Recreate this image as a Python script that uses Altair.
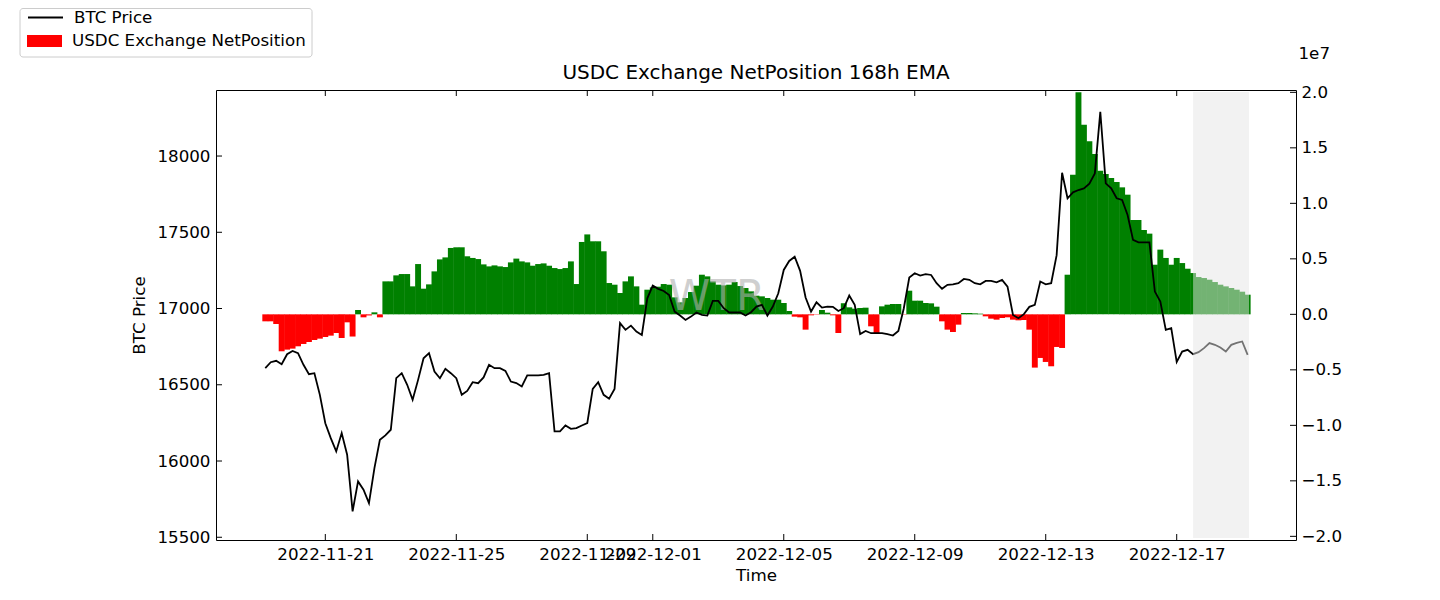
import altair as alt
import numpy as np
import pandas as pd

# ---------------- data (4-hour samples) ----------------
start_time = "2022-11-19 04:00"

btc_price = [
    16609, 16648, 16657, 16635, 16700, 16722, 16707, 16631, 16569, 16576, 16434, 16248,
    16150, 16063, 16183, 16041, 15670, 15866, 15812, 15724, 15953, 16139, 16168,
    16205, 16543, 16576, 16500, 16401, 16532, 16674, 16707, 16587, 16543, 16604, 16576,
    16543, 16434, 16460, 16517, 16510, 16548, 16631, 16609, 16609, 16591,
    16521, 16511, 16489, 16561, 16561, 16561, 16565, 16576, 16194, 16194, 16233, 16211,
    16216, 16233, 16248, 16473, 16517, 16434, 16408, 16473, 16904, 16860, 16888,
    16849, 16827, 17067, 17150, 17129, 17115, 17089, 16980, 16954, 16925, 16947, 16974,
    16958, 16954, 17050, 17050, 17002, 16974, 16974, 16974, 16954, 16976, 17013,
    17024, 16954, 17013, 17100, 17253, 17312, 17340, 17247, 17072, 16980, 17041, 17006,
    17013, 17011, 16984, 17002, 17085, 17024, 16832, 16853, 16838, 16838, 16838,
    16832, 16823, 16853, 17002, 17203, 17231, 17216, 17225, 17220, 17166, 17129, 17155,
    17159, 17166, 17194, 17188, 17166, 17159, 17181, 17181, 17172, 17188,
    17144, 16958, 16936, 16963, 17011, 17024, 17177, 17159, 17166, 17350, 17890, 17723,
    17762, 17777, 17788, 17819, 17886, 18290, 17821, 17788, 17723, 17712, 17613,
    17450, 17434, 17434, 17434, 17111, 17046, 16860, 16871, 16650, 16718, 16729, 16701,
    16714, 16740, 16773, 16762, 16744, 16718, 16762, 16775, 16784, 16696,
]

# USDC exchange net position, 168h EMA, in units of 1e7
net_position_1e7 = [
    -0.063, -0.063, -0.087, -0.333, -0.318, -0.309, -0.288, -0.267, -0.249, -0.231, -0.219, -0.204,
    -0.192, -0.168, -0.213, -0.072, -0.200, 0.039, -0.027, -0.010, 0.018, -0.027, 0.297,
    0.297, 0.351, 0.363, 0.363, 0.252, 0.453, 0.231, 0.270, 0.387, 0.495, 0.513, 0.598,
    0.604, 0.604, 0.523, 0.508, 0.498, 0.450, 0.432, 0.441, 0.432, 0.426,
    0.468, 0.502, 0.477, 0.468, 0.438, 0.453, 0.459, 0.438, 0.417, 0.408, 0.417, 0.477,
    0.273, 0.652, 0.720, 0.658, 0.658, 0.568, 0.282, 0.267, 0.192, 0.297, 0.342,
    0.252, 0.087, 0.222, 0.243, 0.249, 0.273, 0.267, 0.153, 0.108, 0.147, 0.201, 0.258,
    0.357, 0.342, 0.297, 0.267, 0.261, 0.267, 0.291, 0.255, 0.237, 0.207, 0.168,
    0.162, 0.147, 0.132, 0.132, 0.102, 0.030, -0.021, -0.027, -0.138, -0.009, -0.003, 0.039,
    0.015, -0.009, -0.168, 0.100, 0.063, 0.051, 0.057, 0.060, -0.108, -0.168, 0.072,
    0.087, 0.093, 0.093, -0.003, 0.213, 0.123, 0.123, 0.102, 0.099, 0.069, -0.063, -0.138,
    -0.159, -0.093, 0.012, 0.012, 0.009, 0.006, -0.018, -0.039, -0.048, -0.033,
    -0.027, -0.048, -0.054, -0.051, -0.138, -0.480, -0.393, -0.429, -0.468, -0.294, -0.303, 0.357,
    1.258, 2.000, 1.709, 1.559, 1.444, 1.294, 1.264, 1.228, 1.192, 1.144, 1.078,
    0.850, 0.850, 0.760, 0.727, 0.447, 0.583, 0.508, 0.447, 0.508, 0.462, 0.411, 0.372,
    0.336, 0.327, 0.312, 0.291, 0.267, 0.252, 0.237, 0.222, 0.204, 0.177,
]

date_ticks = ["2022-11-21", "2022-11-25", "2022-11-29", "2022-12-01",
              "2022-12-05", "2022-12-09", "2022-12-13", "2022-12-17"]
price_ticks = [15500, 16000, 16500, 17000, 17500, 18000]
net_ticks = [-2.0, -1.5, -1.0, -0.5, 0.0, 0.5, 1.0, 1.5, 2.0]
faded_span = ["2022-12-17 12:00", "2022-12-19 05:00"]

NEG = "USDC Exchange NetPosition"
POS = "USDC Exchange NetPosition (inflow)"
FONT = "DejaVu Sans"
FS = 16.7

# ---------------- tables ----------------
times = pd.date_range(start_time, periods=len(btc_price), freq="4h")
df = pd.DataFrame({"time": times, "price": btc_price, "net": net_position_1e7})
df["t0"] = df["time"] - pd.Timedelta(minutes=130)
df["t1"] = df["time"] + pd.Timedelta(minutes=130)
df["series"] = np.where(df["net"] < 0, NEG, POS)
df["line"] = "BTC Price"

dt_ticks = pd.DataFrame({"d": pd.to_datetime(date_ticks)})
p_ticks = pd.DataFrame({"p": price_ticks})
n_ticks = pd.DataFrame({"v": net_ticks})
fade = pd.DataFrame({"a": [pd.Timestamp(faded_span[0])], "b": [pd.Timestamp(faded_span[1])]})
one = pd.DataFrame({"k": [0]})


def dtobj(s, h=0, m=0):
    t = pd.Timestamp(s)
    return alt.DateTime(year=t.year, month=t.month, date=t.day, hours=h, minutes=m)


def xscale():
    return alt.Scale(domain=[dtobj("2022-11-17", 15, 53), dtobj("2022-12-20", 15, 26)])


ys_price = alt.Scale(domain=[15482, 18433], nice=False, zero=False)
ys_net = alt.Scale(domain=[-2.033, 2.021], nice=False, zero=False)

common_axis = dict(
    ticks=False, domain=False, grid=False,
    labelFont=FONT, titleFont=FONT, labelFontSize=FS, titleFontSize=FS,
    titleFontWeight="normal", labelColor="black", titleColor="black",
)

x_axis = alt.Axis(
    orient="bottom", values=[dtobj(d) for d in date_ticks], format="%Y-%m-%d", title="Time",
    labelOverlap=False, labelPadding=6, titlePadding=5, **common_axis,
)

# ---------------- layers ----------------
bars = alt.Chart(df).mark_bar().encode(
    x=alt.X("t0:T", scale=xscale(), axis=None),
    x2="t1:T",
    y=alt.Y("net:Q", scale=ys_net, axis=alt.Axis(
        orient="right", values=net_ticks, format=".1f", labelPadding=5,
        title="1e7", titleAngle=0, titleX=2, titleY=-37,
        titleAlign="left", titleBaseline="middle", **common_axis)),
    y2=alt.datum(0),
    fill=alt.Fill("series:N", scale=alt.Scale(domain=[NEG, POS], range=["#ff0000", "#008000"]),
                  legend=alt.Legend(values=[NEG], orient="none", legendX=-189, legendY=-66.5,
                                    title=None, symbolType="M-1,-0.343H1V0.343H-1Z",
                                    symbolSize=1225, symbolStrokeWidth=0, symbolOpacity=1,
                                    labelFontSize=FS, labelOffset=10, labelLimit=0)),
)

right_ticks = alt.Chart(n_ticks).mark_tick(orient="horizontal", size=6, thickness=1,
                                           color="black", opacity=1).encode(
    y=alt.Y("v:Q", scale=ys_net, axis=None),
    x=alt.value(1077),
)

line = alt.Chart(df).mark_line(strokeWidth=1.8).encode(
    x=alt.X("time:T", scale=xscale(), axis=x_axis),
    y=alt.Y("price:Q", scale=ys_price, axis=alt.Axis(
        orient="left", values=price_ticks, format="d", title="BTC Price",
        labelPadding=6, titlePadding=8, **common_axis)),
    stroke=alt.Stroke("line:N", scale=alt.Scale(domain=["BTC Price"], range=["black"]),
                      legend=alt.Legend(orient="none", legendX=-189, legendY=-91, title=None,
                                        symbolType="stroke", symbolSize=1225,
                                        symbolStrokeWidth=1.8, labelFontSize=FS, labelOffset=10,
                                        labelLimit=0)),
)

left_ticks = alt.Chart(p_ticks).mark_tick(orient="horizontal", size=6, thickness=1,
                                          color="black", opacity=1).encode(
    y=alt.Y("p:Q", scale=ys_price, axis=None),
    x=alt.value(3),
)

x_ticks_bottom = alt.Chart(dt_ticks).mark_tick(orient="vertical", size=6, thickness=1,
                                               color="black", opacity=1).encode(
    x=alt.X("d:T", scale=xscale(), axis=None), y=alt.value(447))
x_ticks_top = alt.Chart(dt_ticks).mark_tick(orient="vertical", size=6, thickness=1,
                                            color="black", opacity=1).encode(
    x=alt.X("d:T", scale=xscale(), axis=None), y=alt.value(3))

watermark = alt.Chart(one).mark_text(text="WTR", font=FONT, fontSize=42, color="#b0b0b0",
                                     opacity=0.6, align="center", baseline="middle").encode(
    x=alt.value(501), y=alt.value(207))

overlay = alt.Chart(fade).mark_rect(fill="#e6e6e6", opacity=0.5).encode(
    x=alt.X("a:T", scale=xscale(), axis=None), x2="b:T", y=alt.value(2), y2=alt.value(448))

title_text = alt.Chart(one).mark_text(text="USDC Exchange NetPosition 168h EMA", font=FONT,
                                      fontSize=20, color="black", align="center",
                                      baseline="middle").encode(
    x=alt.value(540), y=alt.value(-17))

legend_frame = alt.Chart(one).mark_rect(fill="white", stroke="#cccccc", strokeWidth=1,
                                        cornerRadius=3).encode(
    x=alt.value(-196), x2=alt.value(96), y=alt.value(-81.5), y2=alt.value(-33))

chart = alt.layer(
    bars, watermark, line, legend_frame, right_ticks, left_ticks, overlay,
    x_ticks_bottom, x_ticks_top, title_text,
).resolve_scale(x="independent", y="independent").properties(
    width=1080, height=450,
    autosize=alt.AutoSizeParams(type="none"),
    padding={"left": 208, "top": 82, "right": 120, "bottom": 52},
).configure_view(
    stroke="black", strokeWidth=1
).configure_legend(
    labelFont=FONT, labelColor="black",
).configure_text(font=FONT)

chart.save("out.html", embed_options={"renderer": "svg", "actions": False})
